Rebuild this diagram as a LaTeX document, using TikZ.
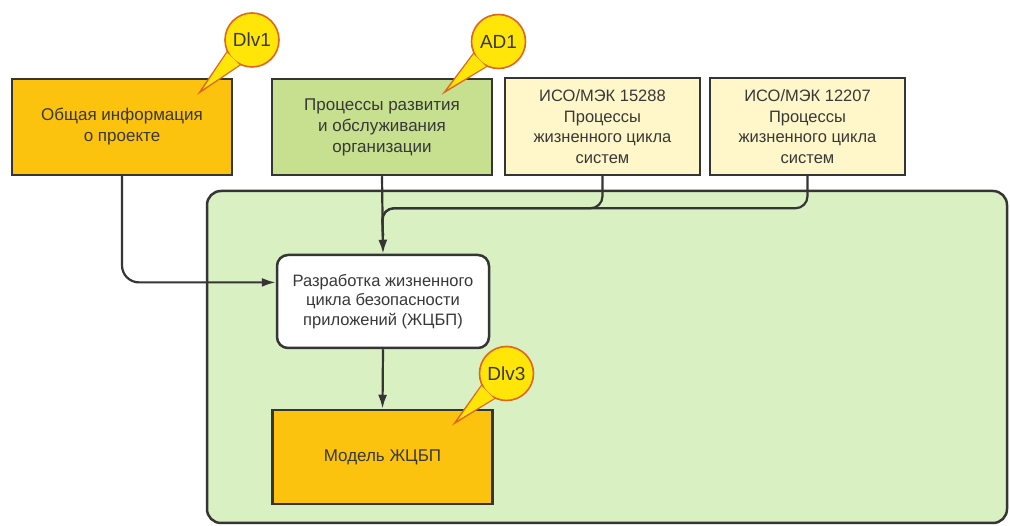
\documentclass[tikz,border=0pt]{standalone}
\usepackage{fontspec}
\setmainfont{Liberation Sans}
\usetikzlibrary{arrows.meta,calc}
\definecolor{orangefill}{HTML}{FCC30E}
\definecolor{greenfill}{HTML}{C6E08F}
\definecolor{creamfill}{HTML}{FFF7C9}
\definecolor{areafill}{HTML}{D9F0C2}
\definecolor{linecol}{HTML}{353535}
\definecolor{textcol}{HTML}{383838}
\definecolor{callfill}{HTML}{FFE508}
\definecolor{callline}{HTML}{E0661E}
\tikzset{
  boxbase/.style={draw=linecol, line width=2.5pt, align=center, text=textcol,
    font=\fontsize{17}{21}\selectfont, inner sep=2pt},
  orangebox/.style={boxbase, fill=orangefill, minimum width=220pt, minimum height=96pt},
  greenbox/.style={boxbase, fill=greenfill, minimum width=220pt, minimum height=96pt},
  creambox/.style={boxbase, fill=creamfill, minimum width=195pt, minimum height=97pt,
    font=\fontsize{16.5}{20.5}\selectfont},
  procbox/.style={boxbase, fill=white, rounded corners=11pt, minimum width=212pt,
    minimum height=93pt, font=\fontsize{16.5}{19.5}\selectfont},
  areabox/.style={draw=linecol, line width=2.5pt, fill=areafill, rounded corners=14pt,
    minimum width=800pt, minimum height=332pt},
  conn/.style={draw=linecol, line width=2.2pt},
  arr/.style={conn, -{Latex[length=14pt,width=9pt]}},
  callout/.style={circle, fill=callfill, draw=callline, line width=1.6pt,
    minimum size=54pt, inner sep=0pt, text=textcol, font=\fontsize{19}{19}\selectfont},
  tailedge/.style={draw=callline, line width=3.2pt, fill=callfill, line join=miter},
  tailfill/.style={fill=callfill}
}
\newcommand{\calloutnode}[4]{% name, position, text, tip name
  \path[tailedge] (#4) -- ($(#2)+(207:27pt)$) -- ($(#2)+(243:27pt)$) -- cycle;
  \node[callout] (#1) at (#2) {};
  \fill[tailfill] (#4) -- (#1.207) -- (#1.243) -- cycle;
  \node[text=textcol, font=\fontsize{19}{19}\selectfont] at (#1) {#3};
}
\begin{document}
\begin{tikzpicture}[x=1pt,y=-1pt]
\useasboundingbox[fill=white] (0,0) rectangle (1010,526);

% container area
\node[areabox] (area) at (607,357) {};

% top boxes
\node[orangebox] (b1) at (122,127) {Общая информация\\о проекте};
\node[greenbox]  (b2) at (382,127) {Процессы развития\\и обслуживания\\организации};
\node[creambox]  (b3) at (602.5,126.5) {ИСО/МЭК 15288\\Процессы\\жизненного цикла\\систем};
\node[creambox]  (b4) at (807.5,126.5) {ИСО/МЭК 12207\\Процессы\\жизненного цикла\\систем};

% inner boxes
\node[procbox] (proc) at (383,301.5) {Разработка жизненного\\цикла безопасности\\приложений (ЖЦБП)};
\node[orangebox, minimum height=94pt] (model) at (382.5,457) {Модель ЖЦБП};

% connectors
\coordinate (j) at ($(b2.south)+(0,32)$);
\coordinate (jend) at ($(proc.north)+(0,-18)$);
\coordinate (pin) at ($(proc.north west)!0.3!(proc.south west)$);
\draw[conn, rounded corners=12pt] (b4.south) -- (b4.south |- j) -- (j) -- (jend);
\draw[conn, rounded corners=12pt] (b3.south) -- (b3.south |- j) -- (j) -- (jend);
\draw[arr] (b2.south) -- (proc.north);
\draw[arr, rounded corners=17pt] (b1.south) |- (pin);
\draw[arr] (proc.south) -- (model.north);

% callout tips
\coordinate (t1) at (203,89);
\coordinate (t2) at (448,89);
\coordinate (t3) at (458,420);
\coordinate (p1) at (252,40);
\coordinate (p2) at (498.5,41.5);
\coordinate (p3) at (506.5,373.5);
\calloutnode{c1}{p1}{Dlv1}{t1}
\calloutnode{c2}{p2}{AD1}{t2}
\calloutnode{c3}{p3}{Dlv3}{t3}
\end{tikzpicture}
\end{document}
